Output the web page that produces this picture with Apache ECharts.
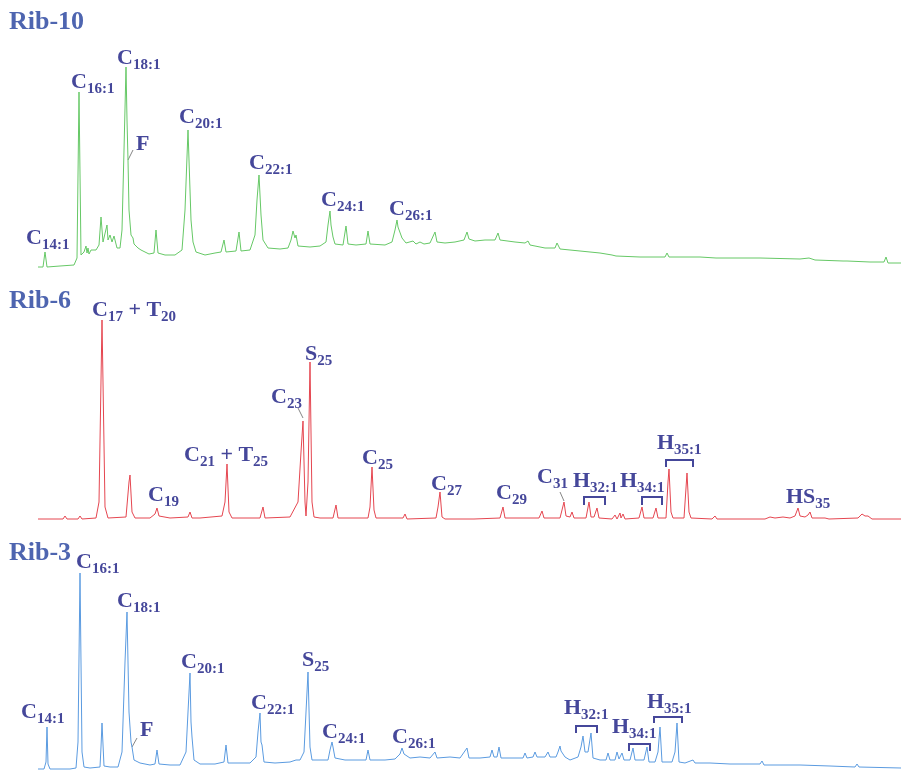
<!DOCTYPE html>
<html>
<head>
<meta charset="utf-8">
<script src="https://cdn.jsdelivr.net/npm/echarts@6/dist/echarts.min.js"></script>
<style>
  html, body { margin: 0; padding: 0; background: #fff; }
  #chart { width: 901px; height: 772px; }
</style>
</head>
<body>
<div id="chart"></div>
<script>
// traces: [retention, intensity]
const rib10 = [[38,3],[43,3],[45,18],[47,3],[60,4],[74,5],[77,12],[79,178],[81,15],[84,18],[86,24],[87,17],[88,22],[89,16],[91,20],[93,18],[96,20],[99,25],[101,53],[103,28],[105,30],[107,45],[108,30],[110,35],[111,36],[112,28],[114,34],[115,33],[117,22],[120,22],[122,40],[124,120],[126,203],[127,150],[128,110],[129,60],[131,35],[133,32],[134,26],[136,28],[138,22],[141,20],[143,18],[149,16],[154,17],[156,40],[158,17],[165,15],[175,15],[182,20],[185,60],[188,140],[190,80],[191,50],[193,28],[196,18],[205,15],[215,17],[221,18],[224,30],[226,18],[236,19],[239,38],[241,19],[250,20],[255,35],[257,70],[259,95],[261,55],[263,30],[268,22],[280,21],[288,22],[291,30],[293,39],[295,32],[296,35],[298,24],[310,23],[320,24],[326,28],[328,45],[330,59],[331,45],[333,33],[335,26],[343,25],[346,44],[348,26],[356,25],[366,26],[368,39],[370,26],[385,25],[392,28],[395,40],[397,50],[398,43],[400,43],[402,32],[406,27],[413,29],[416,26],[420,28],[424,26],[430,27],[435,38],[437,28],[445,27],[455,28],[464,30],[467,38],[469,31],[475,29],[485,30],[495,30],[498,37],[500,30],[515,28],[525,27],[528,29],[530,25],[545,22],[555,22],[557,27],[560,21],[580,19],[600,17],[612,15],[614,16],[616,14],[640,13],[665,13],[667,17],[669,13],[700,13],[716,12],[718,14],[721,12],[760,12],[800,11],[809,12],[815,10],[843,9],[845,11],[847,9],[870,8],[884,8],[886,13],[888,7],[901,7]];

const rib6 = [[38,3],[63,3],[65,6],[67,3],[78,3],[80,6],[82,3],[96,4],[99,20],[102,202],[105,15],[108,4],[126,5],[129,40],[130,47],[132,10],[135,4],[150,4],[155,8],[157,14],[159,6],[170,4],[188,5],[190,10],[192,4],[200,4],[222,6],[225,20],[227,58],[229,10],[232,4],[260,4],[263,15],[265,4],[290,5],[298,20],[301,70],[303,101],[305,20],[306,6],[308,40],[310,160],[312,20],[314,5],[320,4],[333,4],[336,17],[338,4],[368,4],[370,15],[372,55],[374,12],[376,4],[403,4],[405,8],[407,3],[436,4],[438,15],[440,30],[442,5],[445,3],[470,3],[472,5],[474,3],[500,4],[503,15],[505,4],[539,4],[542,11],[544,4],[560,4],[564,20],[566,6],[570,5],[572,10],[574,4],[586,4],[589,20],[591,5],[594,5],[597,14],[599,4],[612,3],[615,7],[617,3],[620,9],[621,4],[623,8],[625,3],[639,4],[642,15],[644,4],[653,4],[656,14],[658,4],[666,4],[668,40],[669,53],[671,10],[673,4],[684,4],[687,49],[689,10],[691,4],[712,3],[715,6],[717,3],[765,3],[770,5],[775,4],[783,5],[790,4],[795,6],[798,14],[800,6],[805,5],[808,7],[810,10],[812,4],[825,4],[827,5],[829,3],[858,4],[862,8],[865,6],[868,6],[872,3],[901,3]];

const rib3 = [[38,3],[44,3],[46,10],[47,45],[48,8],[50,3],[70,3],[76,4],[78,30],[80,199],[82,20],[84,5],[90,4],[100,5],[101,25],[102,49],[104,6],[110,5],[118,5],[122,20],[125,110],[127,160],[129,60],[131,30],[132,25],[134,12],[140,9],[150,7],[155,8],[157,22],[159,8],[170,7],[180,7],[186,20],[188,60],[190,99],[191,50],[192,35],[194,12],[200,8],[215,8],[224,10],[226,27],[228,9],[240,9],[250,9],[256,15],[258,40],[260,59],[261,30],[262,27],[264,10],[275,9],[290,10],[296,12],[298,14],[300,12],[304,20],[306,60],[308,100],[310,25],[312,12],[320,12],[328,12],[330,22],[332,30],[333,25],[335,14],[345,12],[360,12],[366,12],[368,22],[370,12],[385,12],[395,13],[400,18],[402,24],[404,18],[410,14],[420,15],[430,14],[435,20],[437,14],[450,15],[460,14],[467,24],[469,14],[480,14],[490,15],[492,22],[494,15],[497,15],[499,25],[501,14],[515,14],[523,14],[525,19],[527,14],[533,15],[535,20],[537,15],[545,15],[548,20],[550,15],[556,15],[558,20],[560,26],[561,21],[563,23],[565,15],[570,12],[578,15],[581,25],[583,36],[585,20],[588,20],[591,39],[593,14],[600,12],[606,12],[608,19],[610,12],[615,12],[617,20],[619,13],[622,19],[624,12],[630,12],[633,24],[635,12],[644,12],[647,25],[649,10],[655,10],[658,20],[660,45],[662,10],[672,10],[675,20],[677,49],[679,10],[685,9],[693,12],[695,9],[710,9],[730,8],[760,8],[762,11],[764,7],[800,7],[830,6],[855,5],[857,8],[859,5],[901,4]];

const sampleNames = ['Rib-10', 'Rib-6', 'Rib-3'];
const traceColors = ['#66c866', '#e54650', '#5b9be0'];

// peak labels: parts alternate normal / subscript
const labels10 = [
  [['C', '14:1'], 26, 238], [['C', '16:1'], 71, 82], [['C', '18:1'], 117, 58],
  [['F'], 136, 144], [['C', '20:1'], 179, 117], [['C', '22:1'], 249, 163],
  [['C', '24:1'], 321, 200], [['C', '26:1'], 389, 209]
];
const labels6 = [
  [['C', '17', ' + T', '20'], 92, 310], [['C', '19'], 148, 495],
  [['C', '21', ' + T', '25'], 184, 455], [['C', '23'], 271, 397],
  [['S', '25'], 305, 354], [['C', '25'], 362, 458], [['C', '27'], 431, 484],
  [['C', '29'], 496, 493], [['C', '31'], 537, 477], [['H', '32:1'], 573, 481],
  [['H', '34:1'], 620, 481], [['H', '35:1'], 657, 443], [['HS', '35'], 786, 497]
];
const labels3 = [
  [['C', '14:1'], 21, 712], [['C', '16:1'], 76, 562], [['C', '18:1'], 117, 601],
  [['F'], 140, 730], [['C', '20:1'], 181, 662], [['C', '22:1'], 251, 703],
  [['S', '25'], 302, 660], [['C', '24:1'], 322, 732], [['C', '26:1'], 392, 737],
  [['H', '32:1'], 564, 708], [['H', '34:1'], 612, 727], [['H', '35:1'], 647, 702]
];
// brackets over paired peaks: [x1, x2, yTop, yBottom]
const brackets = [
  [584, 605, 497, 505], [642, 662, 497, 505], [666, 693, 460, 467],
  [576, 597, 726, 733], [629, 650, 744, 751], [654, 682, 717, 723]
];
// leader lines
const leaders = [
  [133, 150, 128, 160], [298, 408, 303, 418], [560, 492, 564, 501], [137, 738, 132, 747]
];

const LABEL = '#45479a';
const TITLE = '#4e65b0';
const SERIF = '"Liberation Serif", "DejaVu Serif", serif';

const rich = {
  m: { fontFamily: SERIF, fontWeight: 'bold', fontSize: 22, lineHeight: 30, fill: LABEL },
  s: { fontFamily: SERIF, fontWeight: 'bold', fontSize: 15, lineHeight: 14, verticalAlign: 'bottom', fill: LABEL }
};

const labelText = (parts) => parts.map((p, i) => `{${i % 2 ? 's' : 'm'}|${p}}`).join('')

const graphics = []
;[labels10, labels6, labels3].forEach(list => {
  list.forEach(([parts, x, y]) => {
    graphics.push({
      type: 'text', x, y,
      style: { text: labelText(parts), rich, verticalAlign: 'middle', textAlign: 'left' }
    })
  })
})
const titleY = [22, 301, 553]
sampleNames.forEach((name, i) => {
  graphics.push({
    type: 'text', x: 9, y: titleY[i],
    style: { text: name, fill: TITLE, font: `bold 26px ${SERIF}`, verticalAlign: 'middle' }
  })
})
brackets.forEach(([x1, x2, y1, y2]) => {
  graphics.push({
    type: 'polyline',
    shape: { points: [[x1, y2], [x1, y1], [x2, y1], [x2, y2]] },
    style: { stroke: LABEL, lineWidth: 2, fill: null }
  })
})
leaders.forEach(([x1, y1, x2, y2]) => {
  graphics.push({
    type: 'line', shape: { x1, y1, x2, y2 },
    style: { stroke: '#666', lineWidth: 0.8 }
  })
})

// panel layout (px) and intensity ranges
const panels = [
  { top: 0, height: 270 },
  { top: 270, height: 252 },
  { top: 522, height: 250 }
]
const traces = [rib10, rib6, rib3]

const chart = echarts.init(document.getElementById('chart'), null, { renderer: 'canvas' })
chart.setOption({
  animation: false,
  backgroundColor: '#fff',
  grid: panels.map(p => ({ left: 0, right: 0, top: p.top, height: p.height })),
  xAxis: panels.map((p, i) => ({ type: 'value', gridIndex: i, min: 0, max: 901, show: false })),
  yAxis: panels.map((p, i) => ({ type: 'value', gridIndex: i, min: 0, max: p.height, show: false })),
  series: traces.map((data, i) => ({
    type: 'line',
    name: sampleNames[i],
    xAxisIndex: i, yAxisIndex: i,
    data,
    symbol: 'none',
    lineStyle: { color: traceColors[i], width: 1 }
  })),
  graphic: { elements: graphics }
})
</script>
</body>
</html>
